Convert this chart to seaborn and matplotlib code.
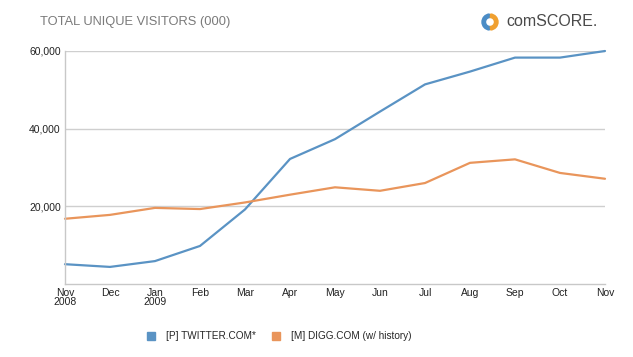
import numpy as np
import pandas as pd
import seaborn as sns
import matplotlib.pyplot as plt
from matplotlib.patches import Wedge

# data
months = ["Nov\n2008", "Dec", "Jan\n2009", "Feb", "Mar", "Apr", "May",
          "Jun", "Jul", "Aug", "Sep", "Oct", "Nov"]
twitter = [5100, 4400, 5900, 9800, 19200, 32200, 37300,
           44400, 51400, 54700, 58300, 58300, 60000]
digg = [16800, 17800, 19600, 19300, 21000, 23000, 24900,
        24000, 26000, 31200, 32100, 28600, 27100]
series_names = ["[P] TWITTER.COM*", "[M] DIGG.COM (w/ history)"]
colors = ["#5a93c4", "#e9955b"]

df = pd.DataFrame({
    "idx": list(range(len(months))) * 2,
    "value": twitter + digg,
    "site": [series_names[0]] * len(months) + [series_names[1]] * len(months),
})

sns.set_style("white")
plt.rcParams["font.family"] = ["Liberation Sans", "DejaVu Sans"]

fig = plt.figure(figsize=(6.33, 3.57), dpi=100)
ax = fig.add_axes([65 / 633, 1 - 284 / 357, 540 / 633, 233 / 357])

sns.lineplot(data=df, x="idx", y="value", hue="site", palette=colors,
             linewidth=1.6, ax=ax, legend=False, clip_on=False)

ax.set_xlim(0, len(months) - 1)
ax.set_ylim(0, 60000)
ax.set_yticks([20000, 40000, 60000])
ax.set_yticklabels(["{:,}".format(v) for v in [20000, 40000, 60000]])
ax.set_xticks(range(len(months)))
ax.set_xticklabels(months, linespacing=0.9)
ax.tick_params(axis="both", length=0, labelsize=7.5, labelcolor="#222222")
ax.tick_params(axis="x", pad=3)
ax.tick_params(axis="y", pad=3)
ax.yaxis.grid(True, color="#cfcfcf", linewidth=1)
ax.set_axisbelow(True)
ax.set_xlabel("")
ax.set_ylabel("")
for side in ["top", "right"]:
    ax.spines[side].set_visible(False)
for side in ["left", "bottom"]:
    ax.spines[side].set_color("#c8c8c8")
    ax.spines[side].set_linewidth(1)

# title
fig.text(40 / 633, 1 - 22 / 357, "TOTAL UNIQUE VISITORS (000)", fontsize=9.3,
         color="#7a7a7a", va="center", ha="left")

# logo
fig.patches.append(Wedge((490, 357 - 22), 8, 95, 265, width=3.5,
                         color="#4a8cc6", transform=None))
fig.patches.append(Wedge((490, 357 - 22), 8, 275, 85, width=3.5,
                         color="#f0a030", transform=None))
fig.text(506 / 633, 1 - 22 / 357, "comSCORE.", fontsize=11.5, color="#4a4a4a",
         va="center", ha="left")

# legend
handles = [plt.Line2D([], [], marker="s", linestyle="", color=c, markersize=5.5)
           for c in colors]
fig.legend(handles, series_names, loc="center left", ncol=2,
           bbox_to_anchor=(132 / 633, 1 - 336 / 357), frameon=False,
           fontsize=7.2, handletextpad=0.5, columnspacing=1.0)

plt.savefig("out.png", dpi=100)
